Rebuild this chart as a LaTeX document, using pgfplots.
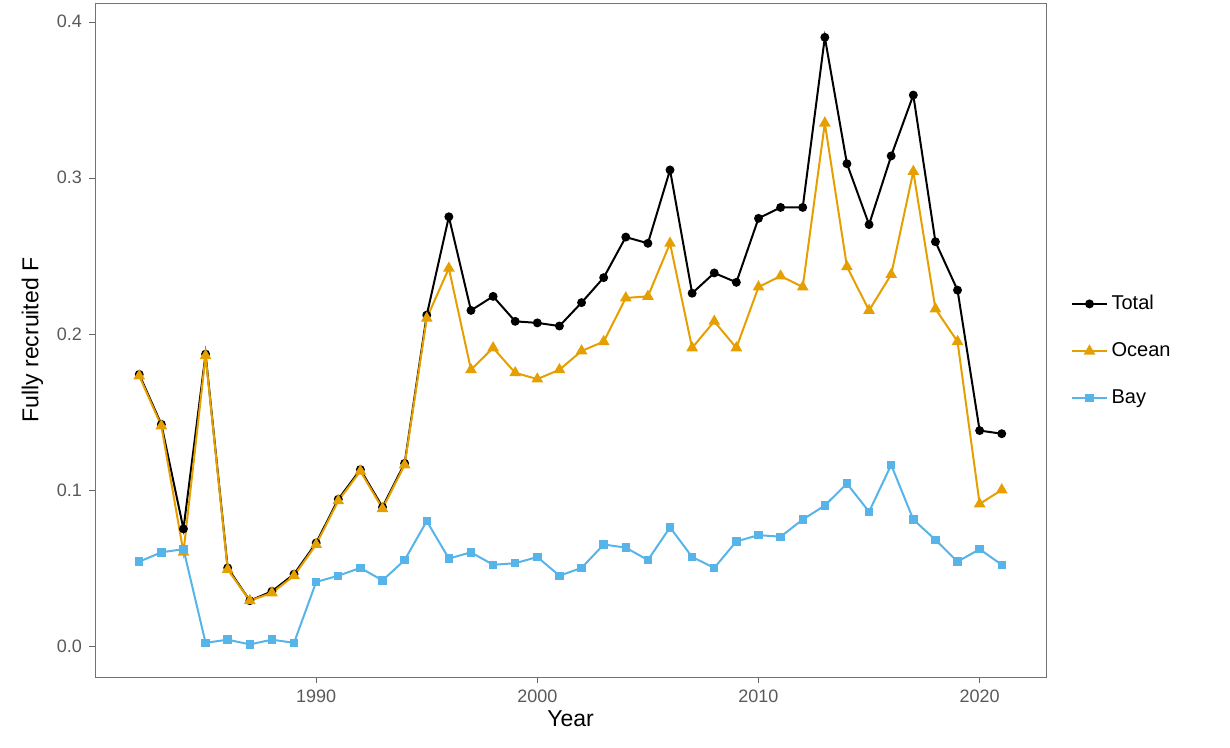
\documentclass[border=0pt]{standalone}
\usepackage{pgfplots}
\pgfplotsset{compat=1.18}
\usepackage{fontspec}
\setmainfont{Liberation Sans}
\definecolor{oc}{HTML}{E69F00}
\definecolor{bay}{HTML}{56B4E9}
\begin{document}
\begin{tikzpicture}[x=0.5pt,y=0.5pt]
\path (-95,-71) rectangle (1135,677);
\begin{axis}[at={(0,0)},anchor=south west,scale only axis,width=475.5pt,height=337pt,
 xmin=1980,xmax=2023,ymin=-0.0199,ymax=0.412,
 xtick={1990,2000,2010,2020},ytick={0,0.1,0.2,0.3,0.4},
 yticklabel style={/pgf/number format/.cd,fixed,fixed zerofill,precision=1},
 /pgf/number format/assume math mode=true,
 /pgf/number format/1000 sep={},
 ticklabel style={font=\fontsize{9}{10}\selectfont,text=black!65},
 tick style={black!60},tick align=outside,tickwidth=3pt,
 xtick pos=bottom,ytick pos=left,
 axis line style={black!55},
 xlabel={Year},ylabel={Fully recruited F},
 label style={font=\fontsize{11.5}{12}\selectfont},
 xlabel style={yshift=3pt},
 legend style={at={(1.02,0.484)},anchor=west,draw=none,font=\fontsize{10}{12}\selectfont,row sep=11pt},
 legend cell align=left,
 every axis plot/.append style={line width=1pt},
]
\addplot[black,mark=*,mark size=1.7pt] coordinates {(1982,.174)(1983,.142)(1984,.075)(1985,.187)(1986,.050)(1987,.029)(1988,.035)(1989,.046)(1990,.066)(1991,.094)(1992,.113)(1993,.089)(1994,.117)(1995,.212)(1996,.275)(1997,.215)(1998,.224)(1999,.208)(2000,.207)(2001,.205)(2002,.220)(2003,.236)(2004,.262)(2005,.258)(2006,.305)(2007,.226)(2008,.239)(2009,.233)(2010,.274)(2011,.281)(2012,.281)(2013,.390)(2014,.309)(2015,.270)(2016,.314)(2017,.353)(2018,.259)(2019,.228)(2020,.138)(2021,.136)};
\addlegendentry{Total}
\addplot[oc,mark=triangle*,mark size=2.4pt] coordinates {(1982,.173)(1983,.141)(1984,.060)(1985,.186)(1986,.049)(1987,.029)(1988,.034)(1989,.045)(1990,.065)(1991,.093)(1992,.112)(1993,.088)(1994,.116)(1995,.210)(1996,.242)(1997,.177)(1998,.191)(1999,.175)(2000,.171)(2001,.177)(2002,.189)(2003,.195)(2004,.223)(2005,.224)(2006,.258)(2007,.191)(2008,.208)(2009,.191)(2010,.230)(2011,.237)(2012,.230)(2013,.335)(2014,.243)(2015,.215)(2016,.238)(2017,.304)(2018,.216)(2019,.195)(2020,.091)(2021,.100)};
\addlegendentry{Ocean}
\addplot[bay,mark=square*,mark size=1.6pt] coordinates {(1982,.054)(1983,.060)(1984,.062)(1985,.002)(1986,.004)(1987,.001)(1988,.004)(1989,.002)(1990,.041)(1991,.045)(1992,.050)(1993,.042)(1994,.055)(1995,.080)(1996,.056)(1997,.060)(1998,.052)(1999,.053)(2000,.057)(2001,.045)(2002,.050)(2003,.065)(2004,.063)(2005,.055)(2006,.076)(2007,.057)(2008,.050)(2009,.067)(2010,.071)(2011,.070)(2012,.081)(2013,.090)(2014,.104)(2015,.086)(2016,.116)(2017,.081)(2018,.068)(2019,.054)(2020,.062)(2021,.052)};
\addlegendentry{Bay}
\end{axis}
\end{tikzpicture}
\end{document}
